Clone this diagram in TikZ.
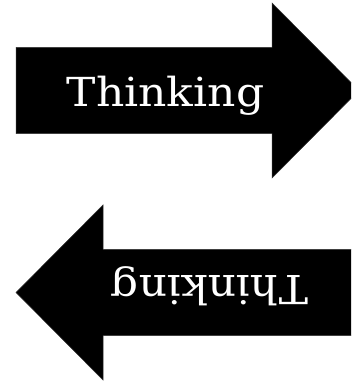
\documentclass[tikz,border=0pt]{standalone}
\usepackage{fontspec}
\setmainfont{DejaVu Serif}
\begin{document}
\begin{tikzpicture}[x=1pt,y=1pt,
  arrowshape/.style={fill=black,draw=black!80,line width=0.5pt},
  label/.style={text=white,font=\fontsize{40}{42}\selectfont,anchor=base,inner sep=0pt,xscale=1.1}]
\useasboundingbox (0,0) rectangle (351,382);
\clip (0,0) rectangle (351,382);
% top arrow (pointing right)
\begin{scope}[shift={(187.5,291.5)}]
  \path[arrowshape] (-171.5,43.2) -- (84.5,43.2) -- (84.5,87.5) -- (171.5,0) -- (84.5,-87.5) -- (84.5,-43.2) -- (-171.5,-43.2) -- cycle;
  \node[label] (t1) at (-22,-16.5) {Thinking};
\end{scope}
% bottom arrow (pointing left, rotated)
\begin{scope}[shift={(187.5,89.5)},rotate=180]
  \path[arrowshape] (-171.5,43.2) -- (84.5,43.2) -- (84.5,87.5) -- (171.5,0) -- (84.5,-87.5) -- (84.5,-43.2) -- (-171.5,-43.2) -- cycle;
  \node[label,rotate=180] (t2) at (-22,-16.5) {Thinking};
\end{scope}
\end{tikzpicture}
\end{document}
